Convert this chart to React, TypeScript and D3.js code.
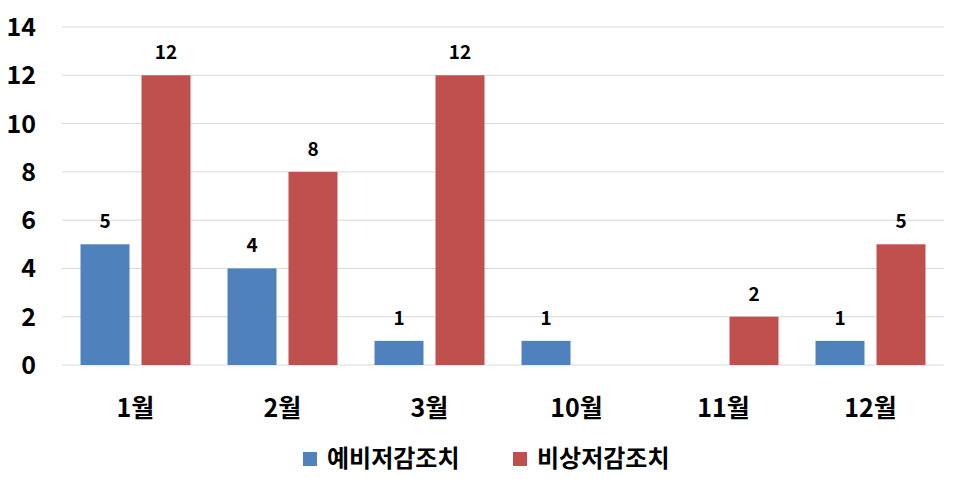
import React from "react";
import * as d3 from "d3";

const categories = ["1월", "2월", "3월", "10월", "11월", "12월"];
const seriesNames = ["예비저감조치", "비상저감조치"];
const preventive = [5, 4, 1, 1, 0, 1];
const emergency = [12, 8, 12, 0, 2, 5];
const yTicks = [0, 2, 4, 6, 8, 10, 12, 14];
const colors = ["#4f81bd", "#c0504d"];

const W = 975;
const H = 479;
const FONT = "'Noto Sans CJK KR', 'Noto Sans', sans-serif";

export default function App() {
  const x = d3.scaleBand<string>().domain(categories).range([62, 944]);
  const y = d3.scaleLinear().domain([0, 14]).range([365, 27]);
  const barW = 49;
  const gap = 12;
  const groupW = barW * 2 + gap;
  const series = [preventive, emergency];

  return (
    <svg width={W} height={H} style={{ position: "absolute", left: 0, top: 0 }} fontFamily={FONT}>
      <rect width={W} height={H} fill="#fff" />
      {yTicks.map((t) => (
        <g key={t}>
          <line x1={62} x2={944} y1={y(t)} y2={y(t)} stroke="#d9d9d9" strokeWidth={1} />
          <text x={36} y={y(t)} dy="0.36em" textAnchor="end" fontSize={25} fontWeight="bold" fill="#000">
            {t}
          </text>
        </g>
      ))}
      {categories.map((c, i) => {
        const cx = (x(c) as number) + x.bandwidth() / 2;
        const start = cx - groupW / 2;
        return (
          <g key={c}>
            {series.map((s, k) => {
              const v = s[i];
              const bx = start + k * (barW + gap);
              return (
                <g key={k}>
                  {v > 0 && (
                    <rect x={bx} y={y(v)} width={barW} height={y(0) - y(v)} fill={colors[k]} />
                  )}
                  {v > 0 && (
                    <text x={bx + barW / 2} y={y(v) - 16} textAnchor="middle" fontSize={19} fontWeight="bold" fill="#000">
                      {v}
                    </text>
                  )}
                </g>
              );
            })}
            <text x={cx} y={417} textAnchor="middle" fontSize={25} fontWeight="bold" fill="#000">
              {c}
            </text>
          </g>
        );
      })}
      {seriesNames.map((n, k) => {
        const lx = k === 0 ? 303 : 513;
        return (
          <g key={n}>
            <rect x={lx} y={452} width={14} height={14} fill={colors[k]} />
            <text x={lx + 24} y={467} fontSize={24} fontWeight="bold" fill="#000">
              {n}
            </text>
          </g>
        );
      })}
    </svg>
  );
}
